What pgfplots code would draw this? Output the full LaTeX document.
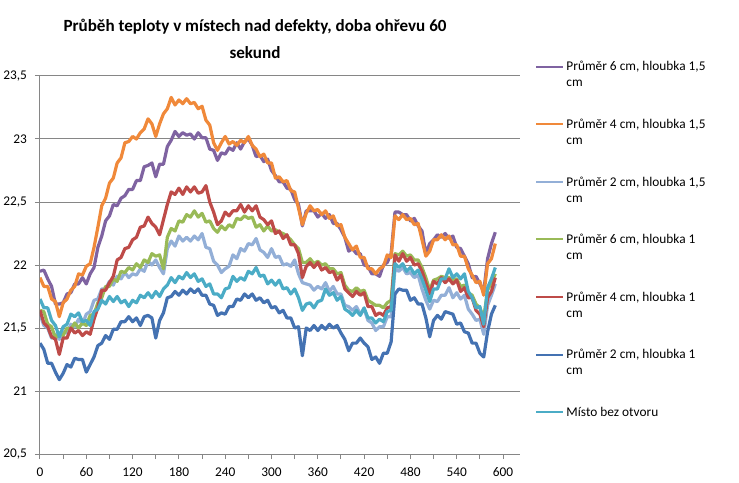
\documentclass[border=0pt]{standalone}
\usepackage{fontspec}
\setmainfont{Carlito}
\usepackage{pgfplots}
\usepackage{pgfplotstable}
\pgfplotsset{compat=1.18}

\definecolor{osa}{HTML}{868686}
\definecolor{fialova}{HTML}{7F63A1}
\definecolor{oranzova}{HTML}{F0893A}
\definecolor{svetlemodra}{HTML}{93AFD7}
\definecolor{zelena}{HTML}{99BA57}
\definecolor{cervena}{HTML}{BE4B48}
\definecolor{tmavemodra}{HTML}{4472B2}
\definecolor{tyrkysova}{HTML}{4BACC6}

% t = cas [s]; P,O,L = hloubka 1,5 cm (6/4/2 cm); G,R,D = hloubka 1 cm; T = bez otvoru
\pgfplotstableread{
t P O L G R D T
0 21.95 21.90 21.61 21.64 21.64 21.38 21.73
5 21.96 21.83 21.52 21.63 21.54 21.33 21.66
10 21.89 21.83 21.50 21.53 21.51 21.22 21.66
15 21.83 21.73 21.42 21.51 21.43 21.22 21.56
20 21.69 21.71 21.45 21.42 21.41 21.15 21.52
25 21.69 21.59 21.41 21.46 21.29 21.09 21.43
30 21.70 21.70 21.47 21.44 21.42 21.14 21.51
35 21.77 21.73 21.46 21.50 21.42 21.21 21.53
40 21.78 21.80 21.53 21.49 21.50 21.19 21.61
45 21.85 21.83 21.51 21.54 21.46 21.26 21.59
50 21.85 21.93 21.57 21.50 21.48 21.25 21.62
55 21.90 21.92 21.53 21.54 21.44 21.25 21.55
60 21.85 21.99 21.61 21.52 21.47 21.15 21.56
65 21.93 22.01 21.63 21.60 21.45 21.21 21.52
70 21.98 22.14 21.72 21.61 21.57 21.27 21.63
75 22.14 22.30 21.73 21.70 21.66 21.36 21.65
80 22.23 22.47 21.81 21.74 21.80 21.38 21.72
85 22.35 22.53 21.81 21.83 21.80 21.44 21.69
90 22.39 22.65 21.87 21.83 21.86 21.41 21.75
95 22.48 22.69 21.84 21.89 21.91 21.49 21.71
100 22.47 22.81 21.91 21.87 22.04 21.49 21.75
105 22.53 22.85 21.89 21.95 22.06 21.55 21.70
110 22.55 22.97 21.94 21.94 22.13 21.55 21.72
115 22.60 22.98 21.90 21.98 22.14 21.59 21.67
120 22.60 23.02 21.93 21.96 22.20 21.55 21.72
125 22.67 23.00 21.92 22.01 22.22 21.58 21.70
130 22.67 23.05 21.97 21.98 22.30 21.52 21.76
135 22.78 23.08 21.95 22.04 22.31 21.59 21.74
140 22.79 23.16 22.03 22.02 22.38 21.60 21.78
145 22.81 23.12 22.00 22.09 22.33 21.58 21.74
150 22.70 23.02 22.04 22.07 22.30 21.42 21.79
155 22.80 23.12 21.98 22.08 22.24 21.56 21.75
160 22.80 23.20 21.93 21.97 22.36 21.62 21.81
165 22.94 23.24 22.13 22.22 22.48 21.74 21.84
170 22.99 23.33 22.19 22.29 22.58 21.75 21.90
175 23.06 23.27 22.15 22.27 22.56 21.79 21.86
180 23.02 23.31 22.23 22.35 22.61 21.76 21.91
185 23.05 23.28 22.19 22.34 22.56 21.80 21.89
190 23.03 23.32 22.22 22.40 22.62 21.77 21.94
195 23.04 23.28 22.19 22.38 22.58 21.81 21.90
200 23.00 23.29 22.23 22.43 22.62 21.78 21.93
205 23.05 23.24 22.20 22.38 22.57 21.81 21.87
210 23.01 23.26 22.25 22.41 22.58 21.76 21.89
215 23.01 23.15 22.14 22.34 22.63 21.76 21.83
220 22.92 23.11 22.13 22.35 22.50 21.69 21.85
225 22.91 22.97 22.03 22.29 22.42 21.68 21.77
230 22.83 22.91 22.00 22.26 22.32 21.60 21.77
235 22.89 22.97 21.94 22.31 22.35 21.62 21.74
240 22.88 23.02 21.97 22.28 22.42 21.61 21.81
245 22.93 22.96 21.99 22.32 22.39 21.67 21.82
250 22.91 22.98 22.08 22.30 22.43 21.67 21.91
255 22.97 22.95 22.05 22.37 22.43 21.73 21.87
260 22.92 22.99 22.13 22.36 22.48 21.72 21.90
265 22.98 22.97 22.11 22.39 22.42 21.77 21.88
270 23.00 23.02 22.17 22.37 22.47 21.74 21.95
275 22.95 22.95 22.16 22.38 22.43 21.77 21.93
280 22.86 22.92 22.21 22.30 22.47 21.72 21.98
285 22.87 22.86 22.12 22.32 22.38 21.74 21.91
290 22.82 22.88 22.10 22.27 22.36 21.70 21.92
295 22.84 22.81 22.06 22.31 22.32 21.72 21.85
300 22.75 22.81 22.13 22.27 22.35 21.66 21.88
305 22.71 22.69 22.06 22.28 22.25 21.67 21.84
310 22.66 22.70 22.07 22.26 22.27 21.62 21.88
315 22.66 22.66 22.00 22.25 22.21 21.64 21.81
320 22.61 22.67 22.01 22.23 22.24 21.58 21.82
325 22.60 22.59 21.99 22.20 22.16 21.58 21.77
330 22.52 22.58 22.04 22.16 22.16 21.50 21.81
335 22.48 22.45 21.93 22.13 22.09 21.51 21.74
340 22.31 22.32 21.86 22.02 21.90 21.28 21.64
345 22.43 22.41 21.85 22.02 21.99 21.50 21.69
350 22.43 22.47 21.84 22.05 22.02 21.48 21.70
355 22.43 22.43 21.80 22.01 21.98 21.52 21.66
360 22.38 22.44 21.83 22.03 22.02 21.48 21.71
365 22.41 22.40 21.81 22.00 21.96 21.52 21.72
370 22.37 22.43 21.86 22.01 21.98 21.49 21.81
375 22.40 22.37 21.79 21.97 21.94 21.53 21.76
380 22.33 22.39 21.83 21.97 21.95 21.50 21.78
385 22.33 22.31 21.77 21.93 21.88 21.52 21.72
390 22.28 22.32 21.77 21.94 21.92 21.46 21.75
395 22.22 22.22 21.68 21.84 21.81 21.41 21.65
400 22.11 22.17 21.67 21.80 21.78 21.32 21.63
405 22.13 22.12 21.64 21.79 21.75 21.38 21.60
410 22.09 22.15 21.67 21.82 21.79 21.38 21.64
415 22.09 22.06 21.61 21.79 21.76 21.42 21.60
420 22.00 22.06 21.65 21.80 21.78 21.38 21.66
425 21.99 21.97 21.56 21.72 21.67 21.35 21.58
430 21.93 21.97 21.54 21.70 21.67 21.25 21.58
435 21.93 21.93 21.48 21.68 21.60 21.27 21.54
440 21.91 21.97 21.51 21.68 21.62 21.22 21.57
445 22.00 21.99 21.51 21.66 21.60 21.30 21.55
450 22.02 22.08 21.59 21.70 21.66 21.30 21.63
455 22.09 22.06 21.59 21.72 21.67 21.39 21.64
460 22.42 22.39 21.97 22.09 22.08 21.77 22.01
465 22.42 22.36 21.95 22.08 22.03 21.81 21.98
470 22.40 22.40 21.98 22.11 22.09 21.80 22.01
475 22.40 22.36 21.93 22.07 22.03 21.80 21.95
480 22.35 22.37 21.94 22.08 22.06 21.72 21.98
485 22.37 22.32 21.90 22.04 22.00 21.74 21.93
490 22.31 22.33 21.92 22.04 22.01 21.69 21.96
495 22.27 22.20 21.81 21.98 21.95 21.69 21.89
500 22.09 22.07 21.72 21.90 21.86 21.58 21.80
505 22.17 22.11 21.65 21.80 21.77 21.43 21.71
510 22.20 22.20 21.72 21.88 21.87 21.56 21.81
515 22.24 22.20 21.71 21.89 21.85 21.60 21.81
520 22.22 22.24 21.76 21.91 21.90 21.57 21.89
525 22.25 22.20 21.76 21.90 21.86 21.63 21.89
530 22.21 22.23 21.82 21.90 21.89 21.62 21.97
535 22.23 22.16 21.74 21.88 21.85 21.61 21.90
540 22.14 22.16 21.78 21.89 21.88 21.53 21.93
545 22.13 22.07 21.73 21.83 21.79 21.54 21.89
550 22.07 22.07 21.76 21.84 21.82 21.47 21.93
555 22.01 21.97 21.65 21.78 21.74 21.46 21.79
560 21.90 21.92 21.61 21.76 21.74 21.38 21.74
565 21.91 21.86 21.56 21.69 21.64 21.38 21.66
570 21.85 21.87 21.57 21.66 21.61 21.30 21.67
575 21.79 21.76 21.45 21.58 21.51 21.27 21.53
580 22.05 22.01 21.68 21.80 21.74 21.47 21.82
585 22.17 22.05 21.76 21.86 21.79 21.61 21.89
590 22.26 22.17 21.85 21.93 21.90 21.68 21.98
}\teploty

\begin{document}
\begin{tikzpicture}
\useasboundingbox (-30pt,-21pt) rectangle (524.25pt,340.5pt);
\begin{axis}[
  at={(0,0)}, anchor=south west,
  width=360pt, height=283.5pt, scale only axis,
  xmin=0, xmax=622, ymin=20.5, ymax=23.5,
  axis lines*=left,
  axis line style={osa, line width=0.75pt},
  xtick={0,60,...,600},
  minor xtick={30,90,...,570},
  ytick={20.5,21,21.5,22,22.5,23,23.5},
  tick align=outside,
  major tick length=3.75pt, minor tick length=3.75pt,
  tick style={osa, line width=0.75pt},
  ymajorgrids,
  major grid style={osa, line width=0.75pt},
  ticklabel style={font=\fontsize{10}{12}\selectfont, black},
  xticklabel shift=3pt,
  yticklabel shift=2.5pt,
  /pgf/number format/use comma,
  /pgf/number format/1000 sep={},
  /pgf/number format/assume math mode=true,
  legend style={
    at={(1.031,1.046)}, anchor=north west,
    draw=none, fill=none, inner sep=0pt,
    font=\fontsize{10}{12}\selectfont,
    row sep=30.6pt,
    cells={anchor=base west}
  },
  legend image code/.code={\draw[#1, line width=1.5pt] (0pt,3.2pt) -- (20pt,3.2pt);},
  every axis plot/.append style={no markers, line width=2.4pt, line join=round}
]
\addplot[fialova] table[x=t, y=P] {\teploty};
\addlegendentry{\parbox[t]{115pt}{Průměr 6 cm, hloubka 1,5\newline cm}}
\addplot[oranzova] table[x=t, y=O] {\teploty};
\addlegendentry{\parbox[t]{115pt}{Průměr 4 cm, hloubka 1,5\newline cm}}
\addplot[svetlemodra] table[x=t, y=L] {\teploty};
\addlegendentry{\parbox[t]{115pt}{Průměr 2 cm, hloubka 1,5\newline cm}}
\addplot[zelena] table[x=t, y=G] {\teploty};
\addlegendentry{\parbox[t]{115pt}{Průměr 6 cm, hloubka 1\newline cm}}
\addplot[cervena] table[x=t, y=R] {\teploty};
\addlegendentry{\parbox[t]{115pt}{Průměr 4 cm, hloubka 1\newline cm}}
\addplot[tmavemodra] table[x=t, y=D] {\teploty};
\addlegendentry{\parbox[t]{115pt}{Průměr 2 cm, hloubka 1\newline cm}}
\addplot[tyrkysova] table[x=t, y=T] {\teploty};
\addlegendentry{Místo bez otvoru}
\end{axis}
\node[anchor=base, font=\bfseries\fontsize{12.8}{15}\selectfont] at (161.25pt,317pt) {Průběh teploty v místech nad defekty, doba ohřevu 60};
\node[anchor=base, font=\bfseries\fontsize{12.8}{15}\selectfont] at (161.25pt,296.5pt) {sekund};
\end{tikzpicture}
\end{document}
